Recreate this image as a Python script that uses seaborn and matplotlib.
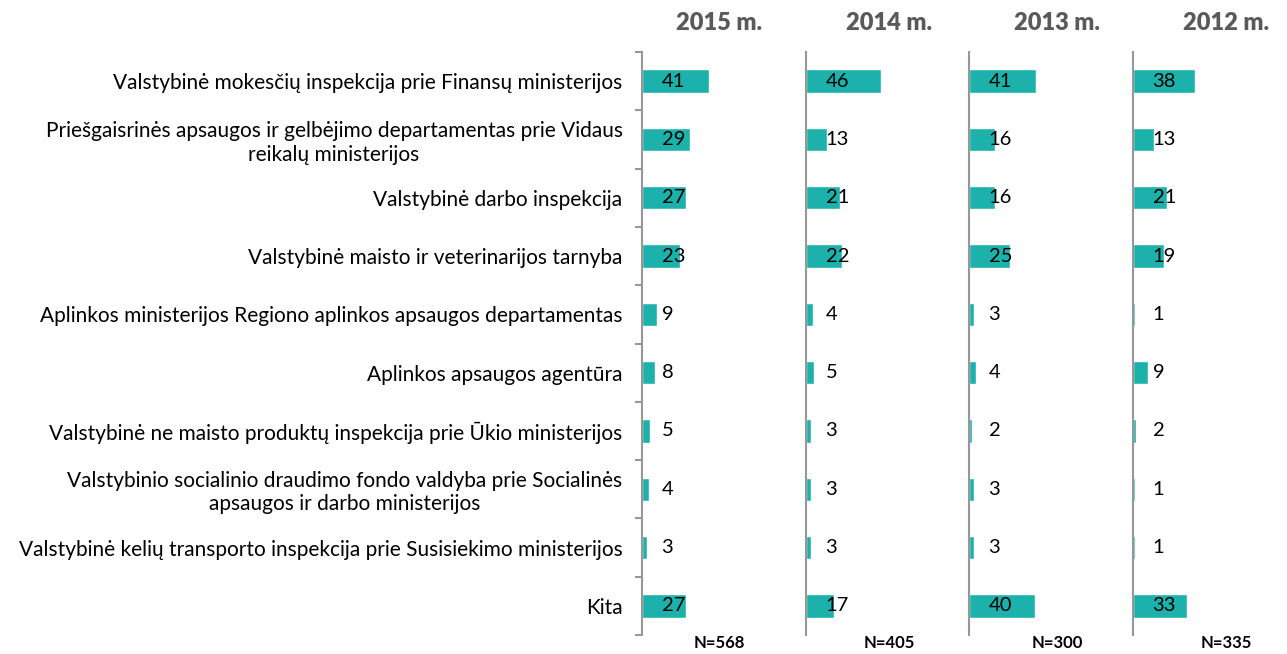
"""Horizontal bar panels: institutions by year (2012-2015)."""

import matplotlib

matplotlib.use("Agg")
import matplotlib.pyplot as plt
import numpy as np
import pandas as pd
import seaborn as sns

categories = [
    "Valstybinė mokesčių inspekcija prie Finansų ministerijos",
    "Priešgaisrinės apsaugos ir gelbėjimo departamentas prie Vidaus\nreikalų ministerijos",
    "Valstybinė darbo inspekcija",
    "Valstybinė maisto ir veterinarijos tarnyba",
    "Aplinkos ministerijos Regiono aplinkos apsaugos departamentas",
    "Aplinkos apsaugos agentūra",
    "Valstybinė ne maisto produktų inspekcija prie Ūkio ministerijos",
    "Valstybinio socialinio draudimo fondo valdyba prie Socialinės\napsaugos ir darbo ministerijos",
    "Valstybinė kelių transporto inspekcija prie Susisiekimo ministerijos",
    "Kita",
]
years = ["2015 m.", "2014 m.", "2013 m.", "2012 m."]
values_2015 = [41, 29, 27, 23, 9, 8, 5, 4, 3, 27]
values_2014 = [46, 13, 21, 22, 4, 5, 3, 3, 3, 17]
values_2013 = [41, 16, 16, 25, 3, 4, 2, 3, 3, 40]
values_2012 = [38, 13, 21, 19, 1, 9, 2, 1, 1, 33]
sample_sizes = ["N=568", "N=405", "N=300", "N=335"]

df = pd.DataFrame(
    {
        "category": categories * len(years),
        "year": np.repeat(years, len(categories)),
        "value": values_2015 + values_2014 + values_2013 + values_2012,
    }
)

sns.set_theme(style="white")
plt.rcParams["font.family"] = ["Lato", "DejaVu Sans"]

BAR_COLOR = "#1DB1AB"
AXIS_COLOR = "#979797"
HEADER_COLOR = "#5A5A5A"

W, H = 1287, 654
AX_TOP, AX_BOTTOM = 52, 635
PANEL_LEFT = [642, 806, 969, 1133]
PANEL_STEP = 164
PX_PER_UNIT = 1.64
LABEL_CENTERS = [719, 889, 1057, 1226]

fig = plt.figure(figsize=(W / 100, H / 100), dpi=100)

for i, year in enumerate(years):
    left = PANEL_LEFT[i]
    width = min(PANEL_STEP, W - left)
    ax = fig.add_axes([left / W, (H - AX_BOTTOM) / H, width / W, (AX_BOTTOM - AX_TOP) / H])
    sub = df[df["year"] == year]
    sns.barplot(
        data=sub, x="value", y="category", orient="h", color=BAR_COLOR,
        saturation=1, width=0.4, ax=ax, errorbar=None,
    )
    ax.set_xlim(0, width / PX_PER_UNIT)
    ax.set_ylim(len(categories) - 0.5, -0.5)
    ax.set_xlabel("")
    ax.set_ylabel("")
    ax.set_xticks([])
    ax.set_facecolor("none")
    for side in ["top", "right", "bottom"]:
        ax.spines[side].set_visible(False)
    ax.spines["left"].set_color(AXIS_COLOR)
    ax.spines["left"].set_linewidth(1.5)

    if i == 0:
        ax.set_yticks(range(len(categories)))
        ax.set_yticklabels(categories, fontsize=15, color="black", multialignment="center")
        ax.tick_params(axis="y", which="major", length=0, pad=14)
        ax.set_yticks(np.arange(-0.5, len(categories)), minor=True)
        ax.tick_params(axis="y", which="minor", length=5, width=1.5, color=AXIS_COLOR, left=True)
    else:
        ax.set_yticks([])

    for j, v in enumerate(sub["value"]):
        ax.text(11.9, j, str(v), ha="left", va="center", fontsize=14.5, color="black")

    fig.text(LABEL_CENTERS[i] / W, 1 - 23 / H, year, ha="center", va="center",
             fontsize=17, fontweight="heavy", color=HEADER_COLOR)
    fig.text(LABEL_CENTERS[i] / W, 1 - 643 / H, sample_sizes[i], ha="center", va="center",
             fontsize=12, fontweight="bold", color="black")

fig.savefig("out.png", dpi=100, facecolor="white")
